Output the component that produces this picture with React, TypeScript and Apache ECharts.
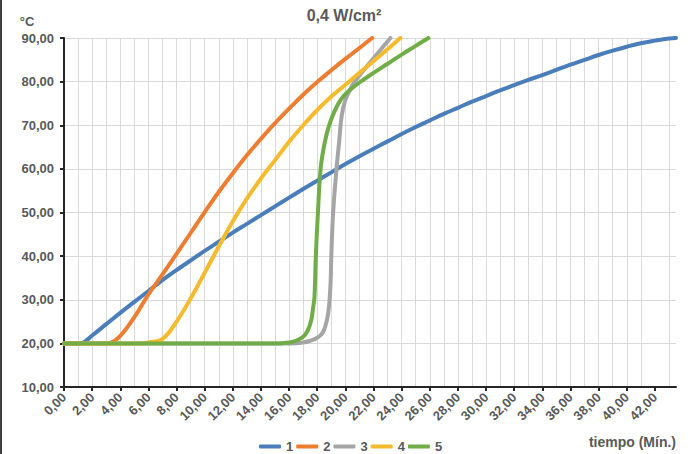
import React, { useEffect, useRef } from "react";
import * as echarts from "echarts";

// ---- Data ----
const title = "0,4 W/cm²";
const yUnit = "°C";
const xName = "tiempo (Mín.)";
const seriesNames = ["1", "2", "3", "4", "5"];
const xTicks = [0, 2, 4, 6, 8, 10, 12, 14, 16, 18, 20, 22, 24, 26, 28, 30, 32, 34, 36, 38, 40, 42];

const t1 = [0, 1, 1.3, 2, 3, 4, 5, 6, 7, 8, 9, 10, 11, 12, 13, 14, 15, 16, 17, 18, 19, 20, 21, 22, 23, 24, 25, 26, 27, 28, 29, 30, 31, 32, 33, 34, 35, 36, 37, 38, 39, 40, 41, 42, 43, 43.5];
const s1 = [20, 20, 20.1, 21.8, 24.4, 27, 29.5, 32, 34.5, 36.8, 39, 41.2, 43.3, 45.4, 47.4, 49.4, 51.4, 53.4, 55.4, 57.3, 59.2, 61.1, 62.9, 64.6, 66.3, 68, 69.6, 71.1, 72.6, 74, 75.4, 76.7, 78, 79.2, 80.4, 81.5, 82.7, 83.9, 85, 86.1, 87.1, 88, 88.8, 89.4, 89.9, 90];

const t2 = [0, 3, 3.3, 4, 5, 6, 7, 8, 9, 10, 11, 12, 13, 14, 15, 16, 17, 18, 19, 20, 21, 21.9];
const s2 = [20, 20, 20.1, 21.7, 26, 31.2, 35.8, 40.5, 45.3, 50.1, 54.7, 59, 63.1, 66.9, 70.5, 73.8, 77, 79.9, 82.6, 85.2, 87.7, 90];

const t3 = [0, 16, 17, 17.5, 18, 18.4, 18.7, 18.85, 18.95, 19.0, 19.13, 19.37, 19.55, 19.73, 20, 20.4, 20.7, 21.5, 22.3, 23.2];
const s3 = [20, 20, 20.2, 20.6, 21.3, 22.5, 25.5, 29, 34, 40, 50, 60, 66, 72, 75.8, 78.6, 80.2, 83.4, 86.5, 90];

const t4 = [0, 5.5, 6, 7, 8, 9, 10, 11, 12, 13, 14, 15, 16, 17, 18, 19, 20, 21, 22, 23, 23.9];
const s4 = [20, 20, 20.2, 21, 25, 30.3, 36.2, 42.2, 48, 53.2, 57.8, 62, 66.2, 70, 73.5, 76.6, 79.3, 82, 84.7, 87.4, 90];

const t5 = [0, 15, 15.5, 16, 16.5, 17, 17.3, 17.55, 17.7, 17.8, 17.9, 18.05, 18.24, 18.5, 18.8, 19.2, 19.7, 20.3, 21, 22, 23, 24, 25, 25.9];
const s5 = [20, 20, 20.05, 20.2, 20.6, 21.5, 22.8, 25, 28, 30.5, 40, 50, 60, 65.5, 69.5, 73, 76, 78, 79.8, 82, 84.1, 86.2, 88.2, 90];

const times = [t1, t2, t3, t4, t5];
const values = [s1, s2, s3, s4, s5];
const colors = ["#4A7EBB", "#ED7D31", "#A5A5A5", "#F5BA2E", "#70AD47"];

const FONT = '"Liberation Sans", Arial, sans-serif';
const TXT = "#595959";
const AXIS = "#262626";
const GRID = "#D9D9D9";

const fmt = (v: number) => v.toFixed(2).replace(".", ",");

export default function App() {
  const ref = useRef<HTMLDivElement>(null);
  useEffect(() => {
    document.body.style.margin = "0";
    const chart = echarts.init(ref.current!, null, { renderer: "svg" });
    chart.setOption({
      animation: false,
      textStyle: { fontFamily: FONT },
      grid: { left: 64, right: 19, top: 38, bottom: 67, containLabel: false },
      legend: {
        data: seriesNames,
        left: 254,
        top: 435,
        itemWidth: 22,
        itemHeight: 4,
        itemGap: 3,
        icon: "roundRect",
        textStyle: { fontSize: 13, fontWeight: "bold", color: TXT, fontFamily: FONT },
      },
      xAxis: {
        type: "value",
        min: 0,
        max: 43.5,
        interval: 2,
        axisLine: { show: true, onZero: false, lineStyle: { color: AXIS, width: 2 } },
        axisTick: { show: true, length: 4, customValues: xTicks, lineStyle: { color: AXIS, width: 2 } },
        axisLabel: {
          rotate: 45,
          margin: 8,
          fontSize: 13,
          fontWeight: "bold",
          color: TXT,
          fontFamily: FONT,
          customValues: xTicks,
          formatter: (v: number) => fmt(v),
        },
        splitLine: { show: true, showMaxLine: false, lineStyle: { color: GRID, width: 1 } },
        minorTick: { show: false, splitNumber: 2 },
        minorSplitLine: { show: true, lineStyle: { color: GRID, width: 1 } },
      },
      yAxis: {
        type: "value",
        min: 10,
        max: 90,
        interval: 10,
        axisLine: { show: true, onZero: false, lineStyle: { color: AXIS, width: 2 } },
        axisTick: { show: true, length: 4, lineStyle: { color: AXIS, width: 2 } },
        axisLabel: {
          margin: 10,
          fontSize: 13,
          fontWeight: "bold",
          color: TXT,
          fontFamily: FONT,
          formatter: (v: number) => fmt(v),
        },
        splitLine: { show: true, lineStyle: { color: GRID, width: 1 } },
      },
      series: seriesNames.map((name, i) => ({
        name,
        type: "line",
        data: times[i].map((t, j) => [t, values[i][j]]),
        showSymbol: false,
        symbol: "none",
        smooth: 0.4,
        color: colors[i],
        lineStyle: { width: 4, color: colors[i], cap: "round" },
        z: 2 + i,
      })),
      graphic: [
        { type: "rect", shape: { x: 0, y: 0, width: 2, height: 454 }, style: { fill: "#404040" } },
        {
          type: "text",
          x: 344,
          y: 15,
          style: { text: title, font: `bold 16px ${FONT}`, fill: TXT, textAlign: "center", textVerticalAlign: "middle" },
        },
        {
          type: "text",
          x: 27,
          y: 21,
          style: { text: yUnit, font: `bold 13px ${FONT}`, fill: TXT, textAlign: "center", textVerticalAlign: "middle" },
        },
        {
          type: "text",
          x: 676,
          y: 442,
          style: { text: xName, font: `bold 14px ${FONT}`, fill: TXT, textAlign: "right", textVerticalAlign: "middle" },
        },
      ],
    });
    return () => chart.dispose();
  }, []);
  return <div ref={ref} style={{ width: 695, height: 454 }} />;
}
